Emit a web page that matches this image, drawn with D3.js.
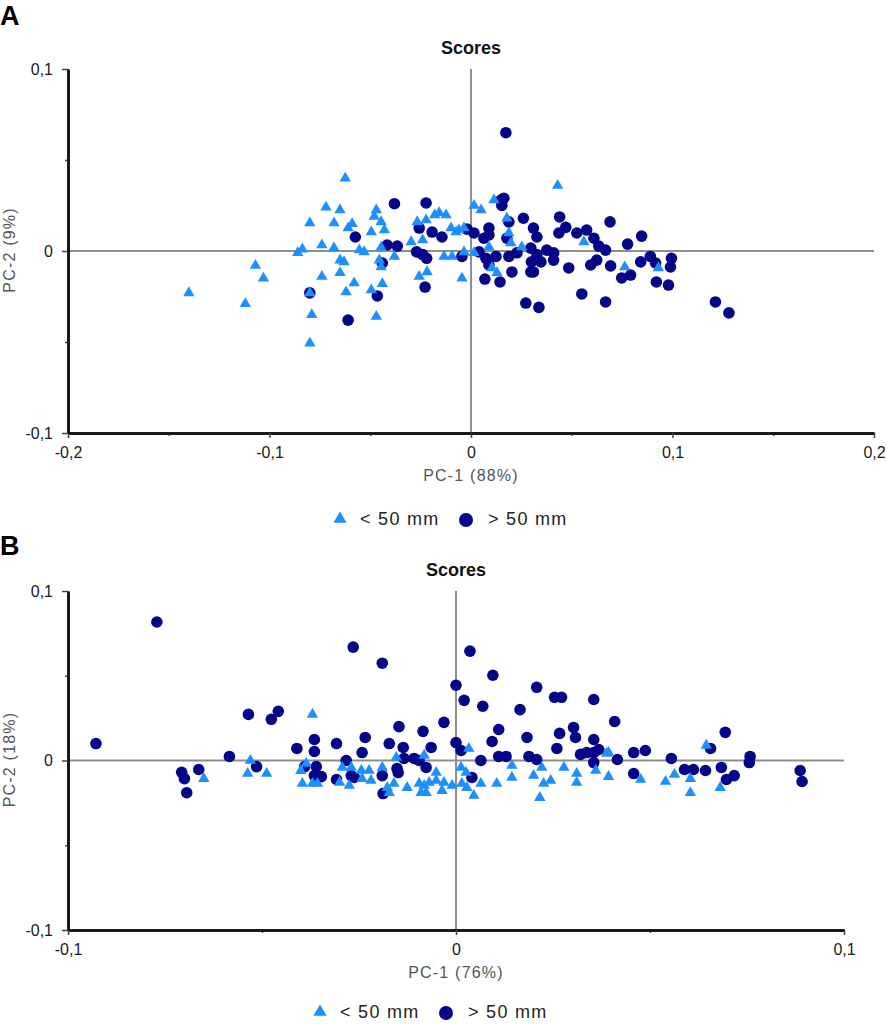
<!DOCTYPE html>
<html><head><meta charset="utf-8">
<script src="https://cdn.jsdelivr.net/npm/d3@7/dist/d3.min.js"></script>
<style>body{margin:0;background:#fff}svg{display:block}text{font-family:"Liberation Sans",Arial,sans-serif}</style>
</head><body>
<script>
// Panel A: PC-1 (88%) vs PC-2 (9%)
const aLow = [[-0.0624,0.040],[-0.072,0.024],[-0.065,0.0225],[-0.080,0.0154],[-0.068,0.0154],[-0.059,0.015],[-0.061,0.0126],[-0.0495,0.0104],[-0.047,0.0225],[-0.048,0.019],[-0.0446,0.016],[-0.043,0.0115],[-0.074,0.0033],[-0.068,0.0016],[-0.086,-0.001],[-0.0837,0.001],[-0.0554,0.0005],[-0.053,-0.0005],[-0.0446,0.002],[-0.065,-0.005],[-0.063,-0.006],[-0.065,-0.012],[-0.074,-0.014],[-0.107,-0.008],[-0.103,-0.015],[-0.140,-0.023],[-0.112,-0.029],[-0.080,-0.023],[-0.079,-0.035],[-0.080,-0.0506],[-0.062,-0.0225],[-0.058,-0.0176],[-0.0495,-0.0214],[-0.044,-0.018],[-0.047,-0.036],[-0.0446,-0.0088],[-0.0455,-0.005],[-0.038,-0.003],[-0.0297,0.005],[-0.0267,0.016],[-0.0223,0.017],[-0.018,0.0198],[-0.0158,0.021],[-0.0124,0.0198],[-0.0099,0.0126],[-0.0074,0.0104],[-0.0035,0.0126],[-0.024,0.006],[-0.0257,-0.014],[-0.0218,-0.0115],[-0.0134,-0.003],[-0.0094,-0.003],[-0.0045,-0.015],[0.043,0.036],[0.0015,0.025],[0.005,0.0225],[0.0114,0.028],[0.0178,0.018],[0.0188,0.0099],[0.0198,0.0044],[0.0252,0.0022],[0.0089,0.0022],[0.056,0.005],[-0.006,0.0115],[-0.0035,-0.0005],[0.0015,-0.001],[0.0104,-0.0093],[0.0129,-0.012],[0.0763,-0.0088],[0.093,-0.0093]];
const aHigh = [[-0.038,0.026],[-0.0223,0.0264],[-0.0574,0.0077],[-0.0416,0.0033],[-0.0366,0.0027],[-0.0257,0.0126],[-0.0193,0.0104],[-0.0144,0.0077],[-0.027,-0.0005],[-0.024,-0.002],[-0.022,-0.004],[-0.044,-0.0066],[-0.0228,-0.0198],[-0.0465,-0.0247],[-0.080,-0.023],[-0.061,-0.038],[-0.0045,-0.003],[-0.002,0.012],[0.0173,0.065],[0.0149,0.028],[0.0163,0.029],[0.0153,0.025],[0.026,0.018],[0.044,0.0187],[0.069,0.016],[0.0847,0.0082],[0.0777,0.0038],[0.0015,0.0099],[0.0089,0.0126],[0.0089,0.0088],[0.0064,0.007],[0.0188,0.016],[0.0178,0.007],[0.031,0.0126],[0.0327,0.0077],[0.0436,0.0099],[0.047,0.013],[0.0525,0.0099],[0.0574,0.0115],[0.061,0.007],[0.0634,0.0027],[0.0668,0.0005],[0.004,-0.0005],[0.0074,-0.004],[0.0124,-0.003],[0.0089,-0.0077],[0.0188,-0.003],[0.0228,-0.001],[0.0297,0.0016],[0.0327,-0.002],[0.030,-0.006],[0.0347,-0.006],[0.0297,-0.0115],[0.031,-0.0115],[0.0376,0.0005],[0.041,-0.001],[0.041,-0.005],[0.0203,-0.0115],[0.0069,-0.0154],[0.0144,-0.017],[0.0485,-0.0093],[0.0594,-0.0077],[0.0624,-0.005],[0.0693,-0.0082],[0.0748,-0.0148],[0.0792,-0.0132],[0.0842,-0.006],[0.089,-0.003],[0.0916,-0.0066],[0.0995,-0.004],[0.099,-0.0088],[0.092,-0.017],[0.098,-0.0187],[0.0272,-0.0286],[0.0337,-0.031],[0.055,-0.0236],[0.0668,-0.028],[0.1213,-0.028],[0.128,-0.034]];
// Panel B: PC-1 (76%) vs PC-2 (18%)
const bLow = [[-0.037,0.0272],[-0.053,0.000],[-0.0537,-0.0077],[-0.0488,-0.0077],[-0.065,-0.0107],[-0.0386,-0.0018],[-0.040,-0.006],[-0.0396,-0.0136],[-0.037,-0.0136],[-0.0357,-0.0136],[0.0033,0.0071],[-0.0154,0.0018],[-0.0082,0.003],[-0.0293,-0.0041],[-0.027,-0.0041],[-0.0244,-0.0059],[-0.0224,-0.0059],[-0.019,-0.0041],[-0.0051,-0.0071],[0.0013,-0.0041],[0.0026,-0.0071],[-0.030,-0.013],[-0.0275,-0.0148],[-0.0242,-0.0107],[-0.0219,-0.0118],[-0.0177,-0.016],[-0.016,-0.0136],[-0.0172,-0.019],[-0.0126,-0.016],[-0.0095,-0.0136],[-0.0082,-0.0148],[-0.0069,-0.013],[-0.009,-0.019],[-0.0077,-0.019],[-0.0051,-0.0118],[-0.0031,-0.013],[-0.0036,-0.0178],[-0.001,-0.0148],[0.0015,-0.0136],[0.0028,-0.016],[0.0046,-0.0207],[0.0064,-0.0136],[0.0105,-0.0136],[0.0144,-0.003],[0.0144,-0.010],[0.020,-0.0089],[0.0221,-0.0041],[0.0226,-0.0136],[0.0244,-0.0118],[0.0216,-0.0219],[0.0278,-0.0041],[0.0311,-0.0077],[0.0311,-0.013],[0.036,-0.0059],[0.0388,0.0041],[0.0393,0.0047],[0.0393,-0.0095],[0.0476,-0.0112],[0.054,-0.0124],[0.0563,-0.0083],[0.0604,-0.0107],[0.0604,-0.019],[0.0645,0.0089],[0.0681,-0.016]];
const bHigh = [[-0.0771,0.0817],[-0.0928,0.010],[-0.0535,0.0272],[-0.0476,0.0243],[-0.0458,0.029],[-0.0584,0.0024],[-0.0514,-0.0036],[-0.0707,-0.007],[-0.070,-0.0107],[-0.0663,-0.0053],[-0.0694,-0.019],[-0.041,0.0071],[-0.0365,0.0124],[-0.0365,0.0053],[-0.039,-0.0036],[-0.036,-0.0036],[-0.0365,-0.0089],[-0.0347,-0.0095],[-0.0308,0.010],[-0.0308,-0.0112],[-0.0265,0.0669],[-0.019,0.0574],[0.0036,0.0645],[0.000,0.0444],[0.0095,0.0503],[0.0208,0.0432],[0.0254,0.0373],[0.0272,0.0373],[0.0355,0.036],[0.0021,0.0355],[0.0069,0.032],[0.0165,0.030],[-0.0031,0.0225],[-0.0147,0.020],[-0.0085,0.0172],[-0.0234,0.0136],[-0.0172,0.010],[-0.0136,0.0077],[-0.0064,0.0077],[-0.0242,0.0047],[0.011,0.0183],[0.0093,0.0112],[0.0183,0.0136],[0.0267,0.016],[0.0303,0.0195],[0.0308,0.0136],[0.026,0.0071],[0.0355,0.0124],[0.000,0.0106],[0.0013,0.0059],[0.0321,0.0036],[0.0337,0.0047],[0.0355,0.0047],[0.0368,0.0065],[0.011,0.0024],[0.0129,0.0024],[0.0188,0.0024],[0.0208,0.0006],[0.0064,0.000],[0.0355,-0.0012],[-0.0283,0],[-0.0134,0.0012],[-0.0108,0.0012],[-0.0095,0],[-0.0077,-0.0041],[-0.0152,-0.0047],[-0.027,-0.0089],[-0.0262,-0.010],[-0.019,-0.0089],[-0.0149,-0.0071],[0.0041,-0.010],[-0.0188,-0.0195],[0.0409,0.023],[0.0458,0.0047],[0.0488,0.0059],[0.0416,0.0006],[0.0458,-0.0077],[0.0555,0.0012],[0.0589,-0.0053],[0.0612,-0.0053],[0.0643,-0.0059],[0.0694,0.0166],[0.0656,0.0071],[0.0684,-0.0041],[0.0697,-0.0112],[0.0717,-0.0089],[0.0758,0.0024],[0.0756,-0.0012],[0.0887,-0.0059],[0.0892,-0.0124]];

const aXMajor = [-0.2,-0.1,0,0.1,0.2], aXMinor = [-0.15,-0.05,0.05,0.15];
const bXMajor = [-0.1,0,0.1], bXMinor = [-0.05,0.05];
const yMajor = [-0.1,0,0.1], yMinor = [-0.05,0.05];
const seriesNames = ["< 50 mm","> 50 mm"];
const panels = [
  {letter:"A", title:"Scores", xTitle:"PC-1 (88%)", yTitle:"PC-2 (9%)", xDom:[-0.2,0.2], xMajor:aXMajor, xMinor:aXMinor, low:aLow, high:aHigh,
   x0:68, x1:874, yTop:69, yBot:433, letterY:25, legendDx:-10, legendDy:85},
  {letter:"B", title:"Scores", xTitle:"PC-1 (76%)", yTitle:"PC-2 (18%)", xDom:[-0.1,0.1], xMajor:bXMajor, xMinor:bXMinor, low:bLow, high:bHigh,
   x0:68, x1:844, yTop:591, yBot:930, letterY:555, legendDx:-15, legendDy:81}
];
const LOW_COL = "#1e8fff", HIGH_COL = "#05058a";
const fmt = d => d === 0 ? "0" : String(d).replace(".", ",");

const svg = d3.select("body").append("svg").attr("width",886).attr("height",1024);
const tri = d3.symbol().type(d3.symbolTriangle).size(56);

panels.forEach(p => {
  const x = d3.scaleLinear().domain(p.xDom).range([p.x0,p.x1]);
  const y = d3.scaleLinear().domain([-0.1,0.1]).range([p.yBot,p.yTop]);
  const g = svg.append("g");

  svg.append("text").attr("x",0).attr("y",p.letterY).attr("font-size",27).attr("font-weight","bold").attr("fill","#000").text(p.letter);
  g.append("text").attr("x",x(0)).attr("y",p.yTop-15).attr("text-anchor","middle").attr("font-size",18).attr("font-weight","bold").attr("fill","#111").text(p.title);

  // zero lines
  g.append("line").attr("x1",x(p.xDom[0])).attr("x2",x(p.xDom[1])).attr("y1",y(0)).attr("y2",y(0)).attr("stroke","#8e8e8e").attr("stroke-width",2);
  g.append("line").attr("x1",x(0)).attr("x2",x(0)).attr("y1",y(0.1)).attr("y2",y(-0.1)).attr("stroke","#8e8e8e").attr("stroke-width",2);

  // axes
  const styleAxis = sel => {
    sel.select(".domain").attr("stroke","#111").attr("stroke-width",2.5);
    sel.selectAll(".tick line").attr("stroke","#444").attr("stroke-width",1.5);
    sel.selectAll("text").attr("font-size",16).attr("fill","#1a1a1a").attr("font-family","Liberation Sans, Arial, sans-serif");
  };
  g.append("g").attr("transform",`translate(0,${p.yBot})`)
    .call(d3.axisBottom(x).tickValues(p.xMinor).tickSize(3).tickFormat("").tickSizeOuter(0)).call(styleAxis);
  g.append("g").attr("transform",`translate(0,${p.yBot})`)
    .call(d3.axisBottom(x).tickValues(p.xMajor).tickSize(5).tickPadding(9).tickFormat(fmt).tickSizeOuter(0)).call(styleAxis);
  g.append("g").attr("transform",`translate(${p.x0},0)`)
    .call(d3.axisLeft(y).tickValues(yMinor).tickSize(3).tickFormat("").tickSizeOuter(0)).call(styleAxis);
  g.append("g").attr("transform",`translate(${p.x0},0)`)
    .call(d3.axisLeft(y).tickValues(yMajor).tickSize(6).tickPadding(9).tickFormat(fmt).tickSizeOuter(0)).call(styleAxis);

  // axis titles
  g.append("text").attr("x",x(0)).attr("y",p.yBot+48).attr("text-anchor","middle").attr("font-size",16).attr("letter-spacing",1.2).attr("fill","#555").text(p.xTitle);
  g.append("text").attr("transform",`translate(15,${y(0)-1}) rotate(-90)`).attr("text-anchor","middle").attr("font-size",16).attr("letter-spacing",1.2).attr("fill","#555").text(p.yTitle);

  // points
  g.append("g").selectAll("circle").data(p.high).join("circle")
    .attr("cx",d=>x(d[0])).attr("cy",d=>y(d[1])).attr("r",5.8).attr("fill",HIGH_COL);
  g.append("g").selectAll("path").data(p.low).join("path")
    .attr("d",tri).attr("transform",d=>`translate(${x(d[0])},${y(d[1])})`).attr("fill",LOW_COL);

  // legend
  const ly = p.yBot + p.legendDy, lx = x(0) + p.legendDx;
  g.append("path").attr("d",d3.symbol().type(d3.symbolTriangle).size(75)).attr("transform",`translate(${lx-121},${ly+1})`).attr("fill",LOW_COL);
  g.append("text").attr("x",lx-101).attr("y",ly+7).attr("font-size",18).attr("letter-spacing",1.3).attr("fill","#222").text(seriesNames[0]);
  g.append("circle").attr("cx",lx+5).attr("cy",ly+2).attr("r",7).attr("fill",HIGH_COL);
  g.append("text").attr("x",lx+27).attr("y",ly+7).attr("font-size",18).attr("letter-spacing",1.3).attr("fill","#222").text(seriesNames[1]);
});
</script>
</body></html>
